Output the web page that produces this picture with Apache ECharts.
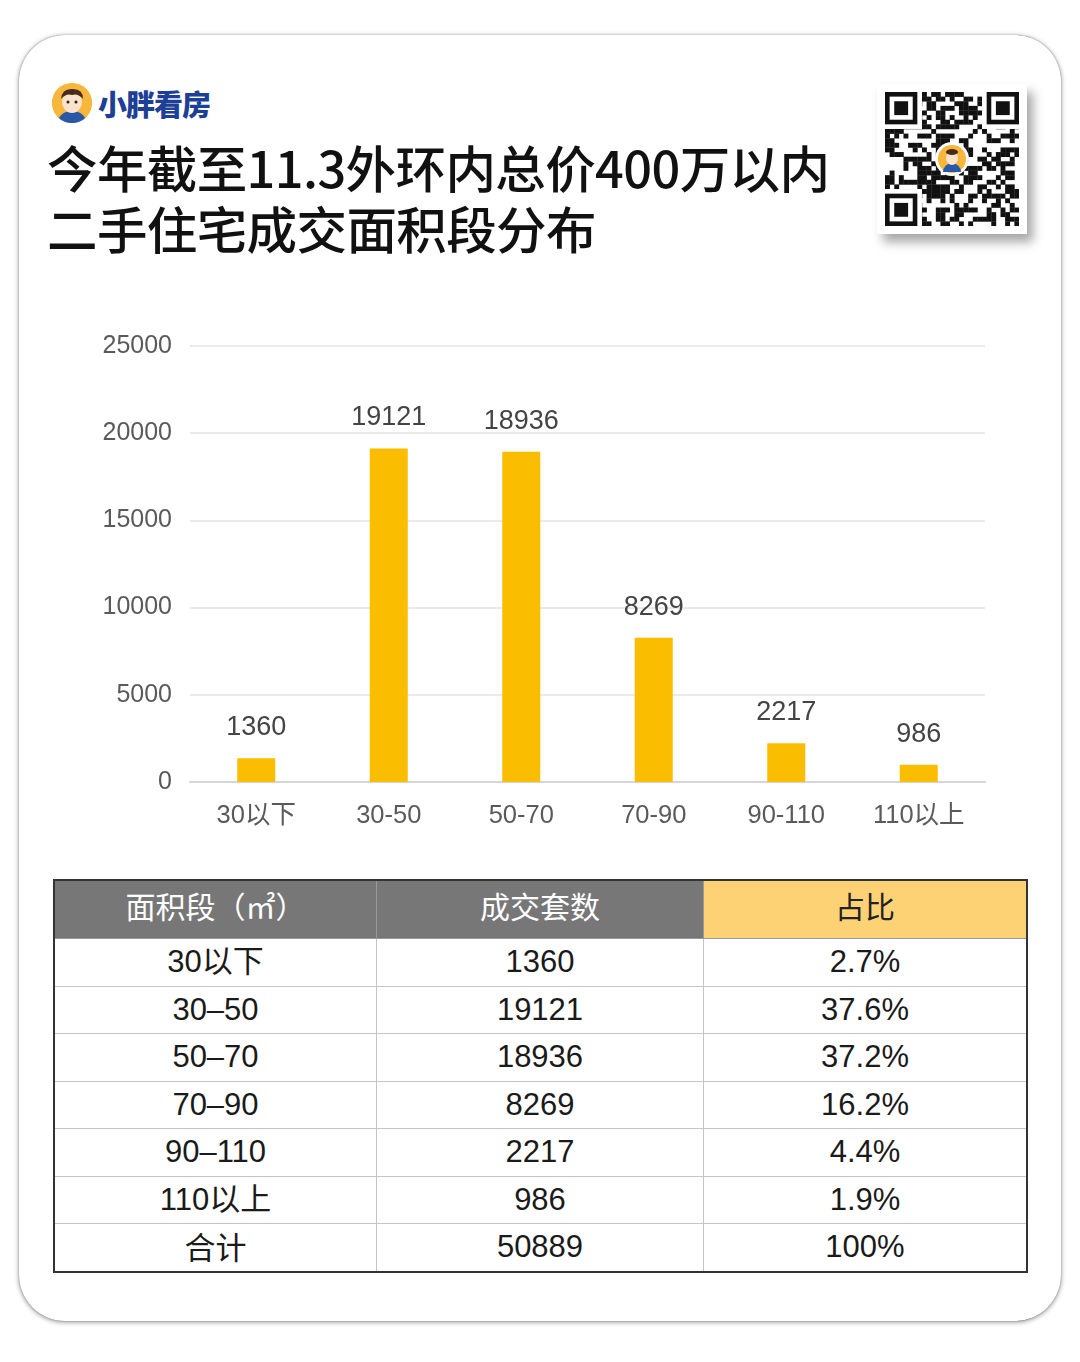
<!DOCTYPE html>
<html><head><meta charset="utf-8">
<script src="https://cdn.jsdelivr.net/npm/echarts@6/dist/echarts.min.js"></script>
<style>
html,body{margin:0;padding:0;background:#fff;width:1080px;height:1362px;overflow:hidden;font-family:"Liberation Sans","Noto Sans CJK SC",sans-serif;}
#card{position:absolute;left:19px;top:35px;width:1042px;height:1286px;border-radius:46px;background:#fff;box-shadow:0 1px 5px rgba(0,0,0,0.45),0 0 1px rgba(0,0,0,0.5);}
#logo{position:absolute;left:52px;top:83px;width:40px;height:40px;border-radius:50%;background:#f6b73c;overflow:hidden;}
#brand{position:absolute;left:98px;top:84px;font-family:"Noto Sans CJK SC";font-weight:900;font-size:29px;color:#1d3f95;letter-spacing:-1px;line-height:38px;}
#title{position:absolute;left:47px;top:136px;font-family:"Noto Sans CJK SC";font-weight:500;font-size:50.5px;line-height:61px;color:#111;letter-spacing:-0.6px;}
#qrwrap{position:absolute;left:877px;top:84px;width:150px;height:150px;background:#fff;box-shadow:6px 8px 10px rgba(0,0,0,0.35);}
#qr{position:absolute;left:8px;top:8px;}
#chart{position:absolute;left:0;top:0;width:1080px;height:870px;}
table{position:absolute;left:53px;top:879px;width:975px;border-collapse:collapse;border:2px solid #333;font-family:"Liberation Sans","Noto Sans CJK SC",sans-serif;}
td,th{border:1.5px solid #c4c4c4;text-align:center;font-size:31px;color:#1a1a1a;font-weight:400;padding:0;vertical-align:middle;}
th{background:#777;color:#fff;height:47px;padding-bottom:10px;line-height:44px;font-family:"Noto Sans CJK SC";font-size:30px;border-color:#999;}
th.hl{background:#fdd274;color:#222;}
td{height:46.5px;line-height:40px;}
td span{display:inline-block;line-height:40px;}
</style></head>
<body>
<div id="card"></div>
<div id="logo"><svg width="40" height="40"><circle cx="20" cy="20" r="20" fill="#f6b73c"/><path d="M5 40 Q8 28 20 28 Q32 28 35 40Z" fill="#2858a8"/><ellipse cx="20" cy="19" rx="10" ry="11" fill="#fde2cc"/><path d="M9 16 Q10 5 21 6 Q31 6 31 16 Q26 10 20 12 Q14 10 9 16Z" fill="#4a2a1a"/><circle cx="16" cy="19" r="1.5" fill="#222"/><circle cx="24" cy="19" r="1.5" fill="#222"/></svg></div>
<div id="brand">小胖看房</div>
<div id="title">今年截至11.3外环内总价400万以内<br>二手住宅成交面积段分布</div>
<div id="qrwrap"><canvas id="qr" width="134" height="134"></canvas></div>
<div id="chart"></div>
<table id="tbl"></table>
<script>
const categories = ['30以下','30-50','50-70','70-90','90-110','110以上'];
const tableLabels = ['30以下','30–50','50–70','70–90','90–110','110以上'];
const counts = [1360, 19121, 18936, 8269, 2217, 986];
const shares = ['2.7%','37.6%','37.2%','16.2%','4.4%','1.9%'];
const totalLabel = '合计';
const totalCount = 50889;
const totalShare = '100%';
const headers = ['面积段（㎡）','成交套数','占比'];

// decorative QR-like pattern
(function(){
  const c=document.getElementById('qr').getContext('2d');
  const n=29, s=134/n;
  c.fillStyle='#fff';c.fillRect(0,0,134,134);
  c.fillStyle='#111';
  let seed=7;
  function rnd(){seed=(seed*1103515245+12345)%2147483648;return seed/2147483648;}
  for(let i=0;i<n;i++)for(let j=0;j<n;j++){ if(rnd()<0.5) c.fillRect(j*s,i*s,s+0.3,s+0.3); }
  function finder(x,y){c.fillStyle='#fff';c.fillRect((x-1)*s,(y-1)*s,9*s,9*s);c.fillStyle='#111';c.fillRect(x*s,y*s,7*s,7*s);c.fillStyle='#fff';c.fillRect((x+1)*s,(y+1)*s,5*s,5*s);c.fillStyle='#111';c.fillRect((x+2)*s,(y+2)*s,3*s,3*s);}
  finder(0,0);finder(n-7,0);finder(0,n-7);
  c.fillStyle='#fff';c.beginPath();c.arc(67,67,17,0,Math.PI*2);c.fill();
  c.fillStyle='#f6b73c';c.beginPath();c.arc(67,67,14,0,Math.PI*2);c.fill();
  c.fillStyle='#2858a8';c.beginPath();c.arc(67,80,9,Math.PI,0);c.fill();
  c.fillStyle='#fde2cc';c.beginPath();c.ellipse(67,66,6,7,0,0,Math.PI*2);c.fill();
  c.fillStyle='#4a2a1a';c.beginPath();c.ellipse(67,60,6,3,0,0,Math.PI*2);c.fill();
})();

// table
(function(){
  const t=document.getElementById('tbl');
  let h='<tr><th style="width:321px">'+headers[0]+'</th><th style="width:326px">'+headers[1]+'</th><th class="hl">'+headers[2]+'</th></tr>';
  for(let i=0;i<categories.length;i++){
    h+='<tr><td><span>'+tableLabels[i]+'</span></td><td><span>'+counts[i]+'</span></td><td><span>'+shares[i]+'</span></td></tr>';
  }
  h+='<tr><td><span style="font-family:\'Noto Sans CJK SC\'">'+totalLabel+'</span></td><td><span>'+totalCount+'</span></td><td><span>'+totalShare+'</span></td></tr>';
  t.innerHTML=h;
})();

const chart = echarts.init(document.getElementById('chart'), null, {renderer:'canvas'});
const font = '"Liberation Sans","Noto Sans CJK SC",sans-serif';
chart.setOption({
  animation:false,
  grid:{left:190, top:346, width:795, height:436, containLabel:false},
  xAxis:{type:'category', data:categories,
    axisLine:{lineStyle:{color:'#d6d6d6', width:2}}, axisTick:{show:false},
    axisLabel:{color:'#5a5a5a', fontSize:25.5, margin:21, fontFamily:font}},
  yAxis:{type:'value', min:0, max:25000, interval:5000,
    axisLine:{show:false}, axisTick:{show:false},
    splitLine:{lineStyle:{color:'#e3e3e3', width:1.5}},
    axisLabel:{color:'#5a5a5a', fontSize:25, margin:18, fontFamily:font, formatter:function(v){return String(v);}}},
  series:[{type:'bar', data:counts, barWidth:38, itemStyle:{color:'#fbbd00'},
    label:{show:true, position:'top', distance:17, color:'#444', fontSize:27, fontFamily:font}}]
});
</script>
</body></html>
